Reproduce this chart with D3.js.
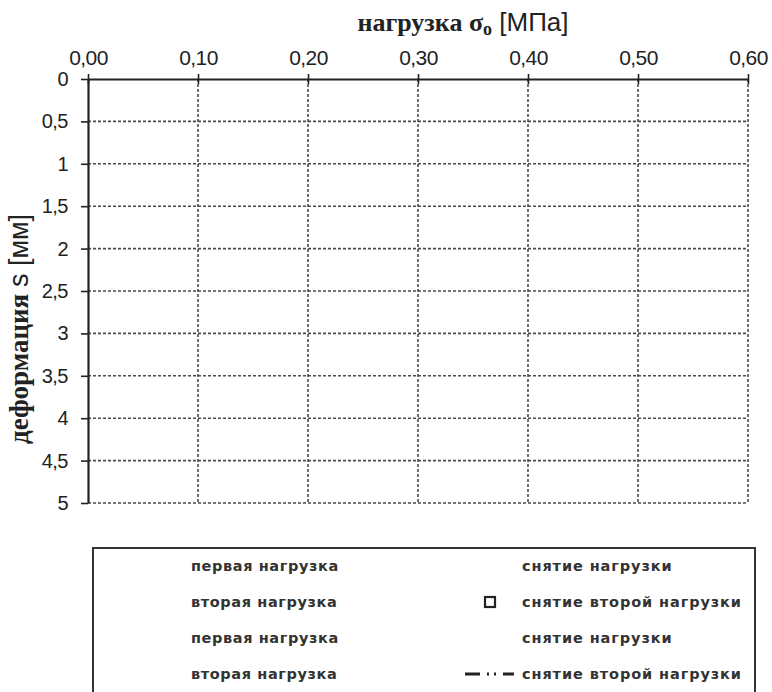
<!DOCTYPE html>
<html><head><meta charset="utf-8">
<script src="https://cdn.jsdelivr.net/npm/d3@7"></script>
<style>body{margin:0;background:#fff;} svg{display:block;}</style>
</head><body>
<svg id="chart" width="772" height="692"></svg>
<script>
// ---- data ----
const xDomain = [0, 0.6];
const yDomain = [0, 5];
const xTicks = [0, 0.1, 0.2, 0.3, 0.4, 0.5, 0.6];
const yTicks = [0, 0.5, 1, 1.5, 2, 2.5, 3, 3.5, 4, 4.5, 5];
const legendLeft = ["первая нагрузка", "вторая нагрузка", "первая нагрузка", "вторая нагрузка"];
const legendRight = ["снятие нагрузки", "снятие второй нагрузки", "снятие нагрузки", "снятие второй нагрузки"];
const legendRightSymbol = ["none", "square", "none", "dashdot"];
const xTitle = "нагрузка σ";
const xTitleSub = "o";
const xTitleUnit = "[МПа]";
const yTitle = "деформация";
const yTitleUnit = "s [мм]";

// ---- layout ----
const svg = d3.select("#chart");
const L = 88, R = 748, T = 79, B = 503;
const x = d3.scaleLinear().domain(xDomain).range([L, R]);
const y = d3.scaleLinear().domain(yDomain).range([T, B]);
const fmtX = v => d3.format(".2f")(v).replace(".", ",");
const fmtY = v => String(v).replace(".", ",");
const sans = "Liberation Sans, Arial, sans-serif";
const serif = "Liberation Serif, Times New Roman, serif";

const g = svg.append("g");
// grid
g.selectAll(".vg").data(xTicks.slice(1)).join("line")
  .attr("x1", d => x(d)).attr("x2", d => x(d)).attr("y1", T).attr("y2", B)
  .attr("stroke", "#4a4a55").attr("stroke-width", 1.6).attr("stroke-dasharray", "3,2");
g.selectAll(".hg").data(yTicks.slice(1)).join("line")
  .attr("x1", L).attr("x2", R).attr("y1", d => y(d)).attr("y2", d => y(d))
  .attr("stroke", "#4a4a55").attr("stroke-width", 1.6).attr("stroke-dasharray", "3,2");

// axes
const xAxis = d3.axisTop(x).tickValues(xTicks).tickFormat(fmtX).tickSizeInner(5).tickSizeOuter(0).tickPadding(9);
const gx = g.append("g").attr("transform", `translate(0,${T})`).call(xAxis);
gx.select(".domain").attr("stroke", "#222").attr("stroke-width", 2.2);
gx.selectAll(".tick line").attr("y1", 5).attr("y2", -5).attr("stroke", "#222").attr("stroke-width", 1.6);
gx.selectAll(".tick text").attr("font-family", sans).attr("font-size", 21).attr("letter-spacing", -0.6).attr("fill", "#222");

const yAxis = d3.axisLeft(y).tickValues(yTicks).tickFormat(fmtY).tickSizeInner(7).tickSizeOuter(0).tickPadding(13);
const gy = g.append("g").attr("transform", `translate(${L},0)`).call(yAxis);
gy.select(".domain").attr("stroke", "#222").attr("stroke-width", 2.2);
gy.selectAll(".tick line").attr("stroke", "#222").attr("stroke-width", 1.6);
gy.selectAll(".tick text").attr("font-family", sans).attr("font-size", 20).attr("letter-spacing", -0.5).attr("fill", "#222");

// titles
const xt = svg.append("text").attr("x", 463).attr("y", 31).attr("text-anchor", "middle").attr("fill", "#222");
xt.append("tspan").attr("font-family", serif).attr("font-size", 26).attr("font-weight", "bold").text(xTitle);
xt.append("tspan").attr("font-family", serif).attr("font-size", 18).attr("font-weight", "bold").attr("dy", 4).text(xTitleSub);
xt.append("tspan").attr("font-family", sans).attr("font-size", 26).attr("dy", -4).text(" " + xTitleUnit);

const yt = svg.append("text").attr("transform", "translate(28,329) rotate(-90)").attr("text-anchor", "middle").attr("fill", "#222");
yt.append("tspan").attr("font-family", serif).attr("font-size", 27).attr("font-weight", "bold").text(yTitle + " ");
yt.append("tspan").attr("font-family", sans).attr("font-size", 27).text(yTitleUnit);

// legend
const lg = svg.append("g");
lg.append("rect").attr("x", 93).attr("y", 548).attr("width", 662).attr("height", 160)
  .attr("fill", "#fff").attr("stroke", "#333").attr("stroke-width", 2);
const rowY = i => 566 + i * 36;
const lf = "DejaVu Sans, sans-serif";
lg.selectAll(".ll").data(legendLeft).join("text")
  .attr("x", 191).attr("y", (d, i) => rowY(i)).attr("dy", "0.35em")
  .attr("font-family", lf).attr("font-weight", "bold").attr("font-size", 14.5).attr("letter-spacing", 0.6).attr("fill", "#333")
  .text(d => d);
lg.selectAll(".lr").data(legendRight).join("text")
  .attr("x", 522).attr("y", (d, i) => rowY(i)).attr("dy", "0.35em")
  .attr("font-family", lf).attr("font-weight", "bold").attr("font-size", 14.5).attr("letter-spacing", 0.9).attr("fill", "#333")
  .text(d => d);
legendRightSymbol.forEach((s, i) => {
  if (s === "square") {
    lg.append("rect").attr("x", 485).attr("y", rowY(i) - 5).attr("width", 10).attr("height", 10)
      .attr("fill", "#fff").attr("stroke", "#222").attr("stroke-width", 2.2);
  } else if (s === "dashdot") {
    lg.append("line").attr("x1", 465).attr("x2", 514).attr("y1", rowY(i)).attr("y2", rowY(i))
      .attr("stroke", "#222").attr("stroke-width", 3).attr("stroke-dasharray", "15,7,2,5,2,7,15");
  }
});
</script>
</body></html>
